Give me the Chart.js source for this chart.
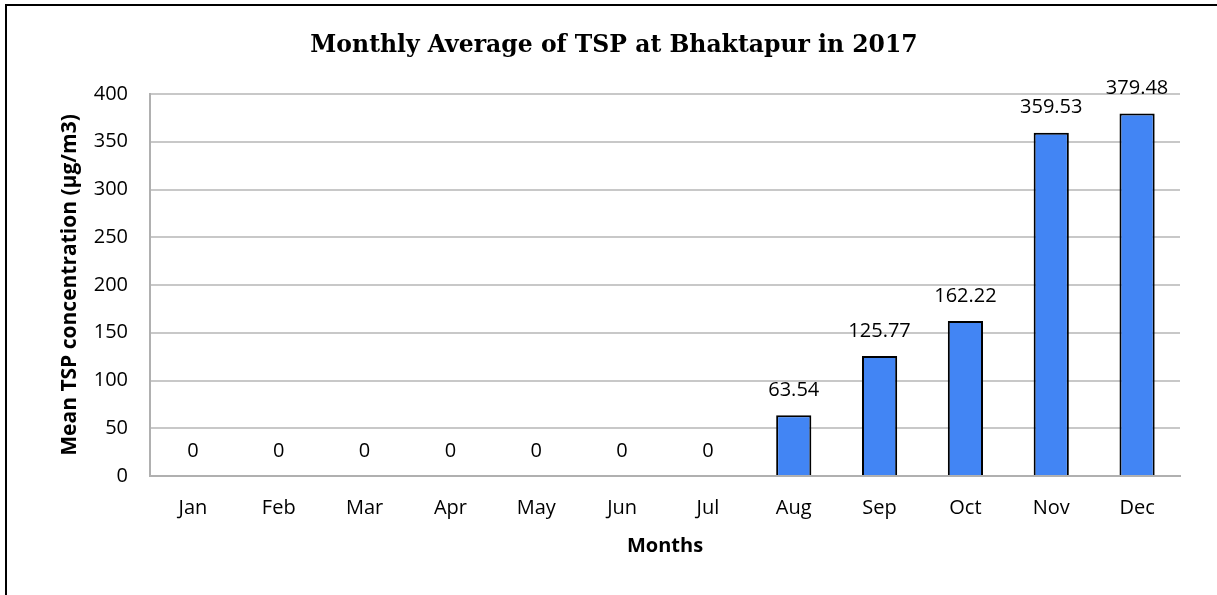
<!DOCTYPE html>
<html>
<head>
<meta charset="utf-8">
<script src="https://cdn.jsdelivr.net/npm/chart.js@4.4.1/dist/chart.umd.min.js"></script>
<style>
  html, body { margin: 0; padding: 0; background: #fff; }
  #wrap { width: 1217px; height: 595px; position: relative; }
</style>
</head>
<body>
<div id="wrap"><canvas id="myChart"></canvas></div>
<script>
// chart data
var months = ['Jan', 'Feb', 'Mar', 'Apr', 'May', 'Jun', 'Jul', 'Aug', 'Sep', 'Oct', 'Nov', 'Dec'];
var tspValues = [0, 0, 0, 0, 0, 0, 0, 63.54, 125.77, 162.22, 359.53, 379.48];
var chartTitle = 'Monthly Average of TSP at Bhaktapur in 2017';
var yTitle = 'Mean TSP concentration (\u00b5g/m3)';
var xTitle = 'Months';

var labelFont = '20px "Open Sans"';

// draws frame, title and value labels
var extras = {
    id: 'extras',
    afterDatasetsDraw: function (chart) {
        var ctx = chart.ctx;
        var meta = chart.getDatasetMeta(0);
        ctx.save();
        ctx.font = labelFont;
        ctx.fillStyle = '#000';
        ctx.textAlign = 'center';
        ctx.textBaseline = 'middle';
        meta.data.forEach(function (bar, i) {
            ctx.fillText(String(tspValues[i]), bar.x, bar.y - 25);
        });
        ctx.restore();
    },
    afterDraw: function (chart) {
        var ctx = chart.ctx;
        ctx.save();
        // outer frame
        ctx.strokeStyle = '#000';
        ctx.lineWidth = 2;
        ctx.beginPath();
        ctx.moveTo(6, 595);
        ctx.lineTo(6, 5);
        ctx.lineTo(1217, 5);
        ctx.stroke();
        // title
        ctx.font = 'bold 23.5px "DejaVu Serif"';
        ctx.fillStyle = '#000';
        ctx.textAlign = 'center';
        ctx.textBaseline = 'middle';
        ctx.fillText(chartTitle, 614, 46);
        ctx.restore();
    }
};

var ctx = document.getElementById('myChart').getContext('2d');
var myChart = new Chart(ctx, {
    type: 'bar',
    data: {
        labels: months,
        datasets: [{
            data: tspValues,
            backgroundColor: '#4285f4',
            borderColor: '#000',
            borderWidth: 2,
            categoryPercentage: 1,
            barPercentage: 0.41
        }]
    },
    options: {
        responsive: true,
        maintainAspectRatio: false,
        animation: false,
        layout: { padding: { top: 94, right: 37, left: 0, bottom: 0 } },
        plugins: {
            legend: { display: false },
            tooltip: { enabled: false }
        },
        scales: {
            x: {
                grid: { display: false, drawTicks: false },
                border: { color: '#b0b0b0', width: 2 },
                ticks: { color: '#000', font: { family: 'Open Sans', size: 20 }, padding: 20 },
                title: { display: true, text: xTitle, color: '#000', font: { family: 'Open Sans', size: 20, weight: 'bold' }, padding: { top: 0, bottom: 37 } },
                afterFit: function (s) { s.height = 595 - 476; }
            },
            y: {
                min: 0,
                max: 400,
                ticks: { stepSize: 50, color: '#000', font: { family: 'Open Sans', size: 20 }, padding: 22 },
                grid: { color: '#c8c8c8', lineWidth: 2, drawTicks: false },
                border: { color: '#b0b0b0', width: 2 },
                title: { display: true, text: yTitle, color: '#000', font: { family: 'Open Sans', size: 21, weight: 'bold' }, padding: { top: 57, bottom: 0 } },
                afterFit: function (s) { s.width = 150; }
            }
        }
    },
    plugins: [extras]
});
</script>
</body>
</html>
